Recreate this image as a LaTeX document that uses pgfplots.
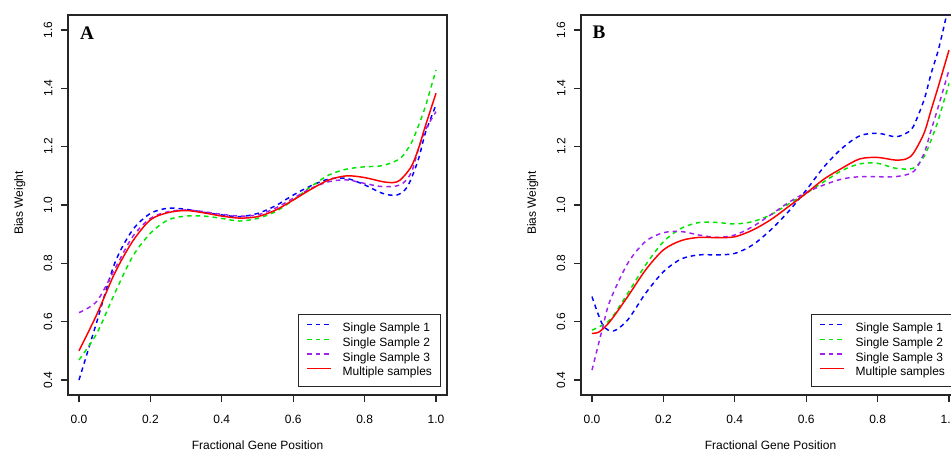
\documentclass[border=0pt]{standalone}
\usepackage{pgfplots}
\pgfplotsset{compat=1.18}
\usepackage{fontspec}
\setmainfont{Liberation Sans}
\newfontfamily\panelfont{Liberation Serif}

\definecolor{sblue}{RGB}{0,0,255}
\definecolor{sgreen}{RGB}{0,230,0}
\definecolor{spurple}{RGB}{160,32,240}
\definecolor{sred}{RGB}{255,0,0}

\pgfplotsset{
  panel/.style={
    scale only axis,
    width=284.25pt, height=285pt,
    xmin=-0.0308, xmax=1.0308,
    ymin=0.3486, ymax=1.6514,
    xtick={0,0.2,0.4,0.6,0.8,1},
    ytick={0.4,0.6,0.8,1.0,1.2,1.4,1.6},
    xtick pos=bottom, ytick pos=left,
    tick align=outside,
    major tick length=5.25pt,
    axis line style={line width=0.9pt, black!85},
    major tick style={line width=0.8pt, black!85},
    tick label style={font=\fontsize{9}{10}\selectfont},
    /pgf/number format/.cd, fixed, fixed zerofill, precision=1, assume math mode=true,
    /pgfplots/.cd,
    yticklabel style={xshift=-3pt, rotate=90, anchor=south},
    xticklabel style={yshift=-6.5pt},
    xlabel={Fractional Gene Position},
    ylabel={Bias Weight},
    label style={font=\fontsize{9}{10}\selectfont},
    xlabel style={at={(rel axis cs:0.5,-0.132)}, anchor=center},
    ylabel style={at={(rel axis cs:-0.127,0.505)}, anchor=center},
    legend cell align=left,
    legend style={
      at={(0.607,0.021)}, anchor=south west,
      draw=black!85, line width=0.7pt,
      inner xsep=6pt, inner ysep=6pt,
      font=\fontsize{9}{10}\selectfont,
      row sep=2.2pt, column sep=8pt,
      nodes={inner sep=0pt, text height=6.8pt, text depth=2pt},
    },
    legend image code/.code={\draw[##1] (0pt,3pt) -- (18pt,3pt);},
  },
  single/.style={line width=1.1pt, dash pattern=on 3.4pt off 3pt, smooth},
  multi/.style={line width=1.1pt, sred, smooth},
}

\begin{document}
\begin{tikzpicture}
\useasboundingbox (0,0) rectangle (713.25pt,339pt);
\clip (0,0) rectangle (713.25pt,339pt);

% ---------- Panel A ----------
\begin{axis}[panel, at={(51pt,42.75pt)}, anchor=south west]
\addplot[single, sblue] coordinates {
  (0,0.400) (0.03,0.520) (0.05,0.600) (0.1,0.800) (0.15,0.914) (0.2,0.971)
  (0.25,0.989) (0.3,0.985) (0.35,0.975) (0.4,0.966) (0.45,0.960) (0.5,0.971)
  (0.55,0.997) (0.6,1.034) (0.65,1.066) (0.7,1.089) (0.75,1.091) (0.8,1.069)
  (0.85,1.040) (0.89,1.034) (0.92,1.063) (0.95,1.154) (0.97,1.246) (1.0,1.343)
};
\addlegendentry{Single Sample 1}
\addplot[single, sgreen] coordinates {
  (0,0.469) (0.05,0.560) (0.1,0.697) (0.15,0.823) (0.2,0.903) (0.25,0.949)
  (0.3,0.962) (0.35,0.962) (0.4,0.954) (0.45,0.945) (0.5,0.954) (0.55,0.977)
  (0.6,1.017) (0.65,1.063) (0.7,1.103) (0.75,1.123) (0.8,1.131) (0.85,1.135)
  (0.9,1.160) (0.93,1.211) (0.95,1.269) (0.97,1.337) (1.0,1.463)
};
\addlegendentry{Single Sample 2}
\addplot[single, spurple] coordinates {
  (0,0.631) (0.05,0.670) (0.1,0.780) (0.15,0.891) (0.2,0.954) (0.25,0.977)
  (0.3,0.983) (0.35,0.977) (0.4,0.968) (0.45,0.962) (0.5,0.966) (0.55,0.989)
  (0.6,1.023) (0.65,1.057) (0.7,1.080) (0.75,1.086) (0.8,1.074) (0.85,1.063)
  (0.9,1.069) (0.93,1.109) (0.95,1.189) (0.97,1.257) (1.0,1.320)
};
\addlegendentry{Single Sample 3}
\addplot[multi] coordinates {
  (0,0.500) (0.05,0.625) (0.1,0.766) (0.15,0.875) (0.2,0.949) (0.25,0.974)
  (0.3,0.981) (0.35,0.973) (0.4,0.962) (0.45,0.955) (0.5,0.960) (0.55,0.982)
  (0.6,1.017) (0.65,1.054) (0.7,1.086) (0.75,1.100) (0.8,1.094) (0.85,1.080)
  (0.88,1.077) (0.9,1.086) (0.93,1.130) (0.95,1.190) (0.97,1.270) (1.0,1.383)
};
\addlegendentry{Multiple samples}
\node[font=\panelfont\bfseries\fontsize{14.4}{15}\selectfont] at (rel axis cs:0.05,0.9526) {A};
\end{axis}

% ---------- Panel B ----------
\begin{axis}[panel, at={(435.75pt,42.75pt)}, anchor=south west]
\addplot[single, sblue] coordinates {
  (0,0.686) (0.03,0.589) (0.06,0.568) (0.1,0.606) (0.15,0.697) (0.2,0.771)
  (0.25,0.815) (0.3,0.829) (0.35,0.829) (0.4,0.834) (0.45,0.863) (0.5,0.914)
  (0.55,0.977) (0.6,1.051) (0.65,1.131) (0.7,1.194) (0.75,1.237) (0.8,1.246)
  (0.85,1.234) (0.88,1.246) (0.9,1.269) (0.93,1.360) (0.95,1.451) (0.97,1.531)
  (0.99,1.634) (1.0,1.690)
};
\addlegendentry{Single Sample 1}
\addplot[single, sgreen] coordinates {
  (0,0.571) (0.05,0.606) (0.1,0.697) (0.15,0.794) (0.2,0.874) (0.25,0.920)
  (0.3,0.940) (0.35,0.940) (0.4,0.935) (0.45,0.943) (0.5,0.966) (0.55,1.003)
  (0.6,1.040) (0.65,1.080) (0.7,1.118) (0.75,1.141) (0.8,1.143) (0.85,1.126)
  (0.9,1.126) (0.93,1.166) (0.95,1.223) (0.97,1.291) (1.0,1.417)
};
\addlegendentry{Single Sample 2}
\addplot[single, spurple] coordinates {
  (0,0.434) (0.03,0.580) (0.05,0.670) (0.1,0.800) (0.15,0.875) (0.2,0.905)
  (0.25,0.909) (0.3,0.897) (0.35,0.889) (0.4,0.897) (0.45,0.926) (0.5,0.966)
  (0.55,1.008) (0.6,1.043) (0.65,1.069) (0.7,1.089) (0.75,1.097) (0.8,1.097)
  (0.85,1.097) (0.9,1.114) (0.93,1.177) (0.95,1.257) (0.97,1.337) (1.0,1.463)
};
\addlegendentry{Single Sample 3}
\addplot[multi] coordinates {
  (0,0.560) (0.02,0.565) (0.05,0.600) (0.1,0.686) (0.15,0.777) (0.2,0.846)
  (0.25,0.878) (0.3,0.889) (0.35,0.888) (0.4,0.891) (0.45,0.914) (0.5,0.949)
  (0.55,0.994) (0.6,1.040) (0.65,1.089) (0.7,1.126) (0.75,1.158) (0.8,1.163)
  (0.85,1.154) (0.88,1.158) (0.9,1.177) (0.93,1.246) (0.95,1.326) (0.97,1.406)
  (1.0,1.531)
};
\addlegendentry{Multiple samples}
\node[font=\panelfont\bfseries\fontsize{14.4}{15}\selectfont] at (rel axis cs:0.0475,0.955) {B};
\end{axis}
\end{tikzpicture}
\end{document}
